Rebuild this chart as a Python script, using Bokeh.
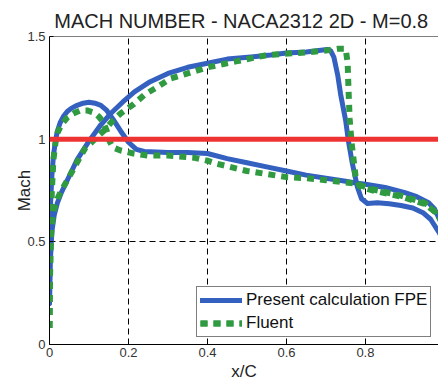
from bokeh.plotting import figure
from bokeh.models import Span, Legend, LegendItem, FixedTicker, Range1d
from bokeh.embed import file_html
from bokeh.resources import INLINE

# ---------------- data ----------------
title_text = "MACH NUMBER  - NACA2312 2D - M=0.8"
x_ticks = [0, 0.2, 0.4, 0.6, 0.8]
x_tick_labels = ["0", "0.2", "0.4", "0.6", "0.8"]
y_ticks = [0, 0.5, 1.0, 1.5]
y_tick_labels = ["0", "0.5", "1", "1.5"]
sonic_level = 1.0

# Present calculation FPE - surface with the shock
fpe_shock_x = [0.0, 0.002, 0.006, 0.012, 0.02, 0.03, 0.045, 0.07, 0.1, 0.13, 0.155, 0.185,
               0.215, 0.255, 0.3, 0.35, 0.4, 0.45, 0.51, 0.56, 0.6, 0.65, 0.703, 0.712,
               0.72, 0.73, 0.737, 0.745, 0.75, 0.757, 0.767, 0.78, 0.79, 0.805, 0.83,
               0.86, 0.89, 0.92, 0.947, 0.965, 0.985, 1.0]
fpe_shock_m = [0.2, 0.4, 0.55, 0.63, 0.69, 0.74, 0.8, 0.9, 0.99, 1.07, 1.125, 1.18,
               1.23, 1.28, 1.32, 1.35, 1.37, 1.39, 1.40, 1.41, 1.42, 1.425, 1.437, 1.43,
               1.40, 1.31, 1.22, 1.14, 1.09, 0.99, 0.88, 0.765, 0.71, 0.687, 0.69,
               0.685, 0.677, 0.665, 0.64, 0.61, 0.55, 0.5]
# Present calculation FPE - other surface
fpe_other_x = [0.0, 0.001, 0.003, 0.006, 0.01, 0.015, 0.02, 0.027, 0.035, 0.045, 0.055,
               0.07, 0.085, 0.1, 0.115, 0.13, 0.145, 0.16, 0.18, 0.2, 0.22, 0.24, 0.3,
               0.35, 0.4, 0.45, 0.5, 0.55, 0.6, 0.65, 0.7, 0.75, 0.78, 0.8, 0.85, 0.9,
               0.93, 0.96, 0.975, 0.99, 1.0]
fpe_other_m = [0.2, 0.45, 0.7, 0.82, 0.92, 0.99, 1.04, 1.08, 1.11, 1.135, 1.15,
               1.165, 1.175, 1.18, 1.175, 1.165, 1.14, 1.1, 1.04, 0.985, 0.95, 0.94, 0.935,
               0.935, 0.93, 0.905, 0.885, 0.865, 0.845, 0.825, 0.81, 0.795, 0.785, 0.78,
               0.765, 0.74, 0.72, 0.69, 0.66, 0.6, 0.55]

# Fluent - surface with the shock
flu_shock_x = [0.0, 0.001, 0.003, 0.007, 0.012, 0.02, 0.03, 0.048, 0.065, 0.078, 0.09,
               0.104, 0.12, 0.137, 0.16, 0.18, 0.213, 0.243, 0.27, 0.306, 0.35, 0.4,
               0.476, 0.552, 0.63, 0.695, 0.73, 0.75, 0.755, 0.757, 0.76, 0.765, 0.77,
               0.775, 0.785, 0.82, 0.89, 0.95, 0.98, 1.0]
flu_shock_m = [0.08, 0.3, 0.5, 0.6, 0.66, 0.71, 0.75, 0.81, 0.87, 0.915, 0.955,
               0.98, 1.01, 1.04, 1.09, 1.125, 1.17, 1.22, 1.25, 1.295, 1.32, 1.35,
               1.38, 1.41, 1.42, 1.43, 1.44, 1.44, 1.37, 1.25, 1.1, 0.98, 0.9,
               0.82, 0.77, 0.75, 0.72, 0.685, 0.64, 0.58]
# Fluent - other surface
flu_other_x = [0.0, 0.001, 0.003, 0.006, 0.01, 0.015, 0.02, 0.03, 0.045, 0.06, 0.078,
               0.095, 0.112, 0.125, 0.137, 0.145, 0.152, 0.16, 0.18, 0.213, 0.25, 0.3,
               0.365, 0.4, 0.425, 0.5, 0.55, 0.6, 0.65, 0.7, 0.77, 0.82, 0.89, 0.95,
               0.98, 1.0]
flu_other_m = [0.08, 0.3, 0.55, 0.75, 0.9, 0.98, 1.03, 1.07, 1.105, 1.125, 1.14,
               1.14, 1.13, 1.11, 1.08, 1.04, 0.99, 0.96, 0.945, 0.93, 0.92, 0.92,
               0.91, 0.895, 0.88, 0.845, 0.83, 0.815, 0.81, 0.8, 0.785, 0.755, 0.725,
               0.69, 0.64, 0.58]

legend_labels = ["Present calculation FPE", "Fluent"]

# ---------------- styles ----------------
FONT = "Liberation Sans"
BLUE = "#3460c0"
GREEN = "#2f9a40"
RED = "#ee3333"

p = figure(width=438, height=385, output_backend="svg", toolbar_location=None,
           x_range=Range1d(0, 0.985), y_range=Range1d(0, 1.5),
           min_border_left=49, min_border_right=0, min_border_top=36,
           min_border_bottom=41)
p.background_fill_color = "white"
p.border_fill_color = "white"
p.outline_line_color = None

p.title.text = title_text
p.title.align = "center"
p.title.text_font = FONT
p.title.text_font_size = "20px"
p.title.text_font_style = "normal"
p.title.text_color = "#222222"
p.title.standoff = 10

for ax in (p.xaxis[0], p.yaxis[0]):
    ax.axis_line_color = "black"
    ax.axis_line_width = 1
    ax.major_tick_in = 4
    ax.major_tick_out = 0
    ax.major_tick_line_color = "black"
    ax.minor_tick_line_color = None
    ax.major_label_text_font = FONT
    ax.major_label_text_font_size = "13px"
    ax.major_label_text_color = "#333333"
    ax.axis_label_text_font = FONT
    ax.axis_label_text_font_size = "17px"
    ax.axis_label_text_font_style = "normal"
    ax.axis_label_text_color = "#222222"

p.xaxis.ticker = FixedTicker(ticks=x_ticks)
p.yaxis.ticker = FixedTicker(ticks=y_ticks)
p.xaxis.major_label_overrides = {float(t): l for t, l in zip(x_ticks, x_tick_labels)}
p.yaxis.major_label_overrides = {float(t): l for t, l in zip(y_ticks, y_tick_labels)}
p.xaxis.major_label_standoff = 3
p.yaxis.major_label_standoff = 4
p.xaxis.axis_label = "x/C"
p.yaxis.axis_label = "Mach"
p.xaxis.axis_label_standoff = 2
p.yaxis.axis_label_standoff = -10

for g in (p.xgrid[0], p.ygrid[0]):
    g.grid_line_color = "black"
    g.grid_line_width = 1
    g.grid_line_dash = "6 4"
    g.grid_line_alpha = 1.0

# top border of the box
p.add_layout(Span(location=1.5, dimension="width", line_color="black", line_width=1))

b1 = p.line(fpe_shock_x, fpe_shock_m, line_color=BLUE, line_width=5,
            line_join="round", line_cap="round")
b2 = p.line(fpe_other_x, fpe_other_m, line_color=BLUE, line_width=5,
            line_join="round", line_cap="round")
g1 = p.line(flu_shock_x, flu_shock_m, line_color=GREEN, line_width=6,
            line_dash="7 6", line_cap="butt")
g2 = p.line(flu_other_x, flu_other_m, line_color=GREEN, line_width=6,
            line_dash="7 6", line_cap="butt")

p.add_layout(Span(location=sonic_level, dimension="width", line_color=RED, line_width=5))

legend = Legend(items=[LegendItem(label=legend_labels[0], renderers=[b1, b2]),
                       LegendItem(label=legend_labels[1], renderers=[g1, g2])],
                location=(147, 7), margin=0, padding=3, spacing=3,
                label_height=18, glyph_height=18, glyph_width=42, label_standoff=4,
                label_text_font=FONT, label_text_font_size="17px",
                label_text_color="#111111",
                border_line_color="black", border_line_width=1,
                background_fill_color="white", background_fill_alpha=1.0)
p.add_layout(legend)

open("out.html", "w").write(file_html(p, INLINE))
